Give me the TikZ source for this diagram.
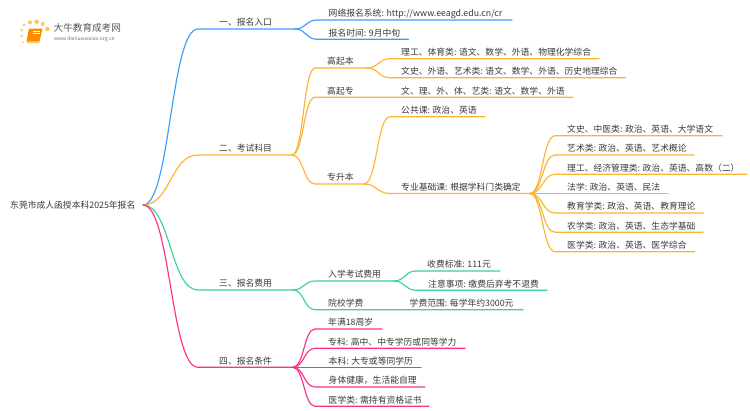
\documentclass[tikz,border=0pt]{standalone}
\usepackage{fontspec}
\setmainfont{Noto Sans CJK SC}
\usetikzlibrary{calc}
\definecolor{cblue}{HTML}{3F9CFF}
\definecolor{corange}{HTML}{FDB432}
\definecolor{cgreen}{HTML}{3DD192}
\definecolor{cpink}{HTML}{FF2F88}
\definecolor{ctext}{HTML}{3A3A3A}
\definecolor{cdot}{HTML}{FFC65A}
\tikzset{
  lbl/.style={anchor=base west,inner sep=0pt,text=ctext,font=\fontsize{8.8}{10}\selectfont},
  wire/.style={line width=1.15pt,line cap=round,line join=round,draw=#1},
  logodot/.style={circle,fill=cdot,draw=none,inner sep=0pt,minimum size=#1},
}
% name, parent, colour, x-in, x-out, y, text-x, text
\newcommand{\topic}[8]{%
  \coordinate (#1-in) at (#4,#6);
  \coordinate (#1-out) at (#5,#6);
  \node[lbl] (#1) at (#7,#6-3.2) {#8};
  \draw[wire=#3] (#2) .. controls ($(#2)!.5!(#2-|#1-in)$) and ($(#1-in)!.5!(#1-in-|#2)$) .. (#1-in) -- (#1-out);
}
\begin{document}
\begin{tikzpicture}[x=1pt,y=-1pt]
\useasboundingbox (0,0) rectangle (750,410);
\fill[white] (0,0) rectangle (750,410);
% logo
\foreach \n/\p/\s in {d1/{21.7,30}/3pt,d2/{24,25}/3pt,d3/{30,22.3}/4pt,d4/{36.7,21.7}/4.5pt,d5/{42.7,24}/4pt,d6/{47.3,29}/4.5pt,d7/{21.7,36}/2.5pt,d8/{23.3,42.3}/2pt}{
  \node[logodot=\s] (\n) at (\p) {};
}
\fill[orange!90!yellow] (29,28.5) -- (42.5,28.5) -- (39.5,41.5) -- (26.5,41.5) -- cycle;
\fill[orange!60!yellow!70!white] (26.5,41.5) -- (39.5,41.5) -- (39.2,43) -- (27,43) -- cycle;
\draw[white,line width=.5pt] (33,31) -- (40,31) (32.5,33.5) -- (39.5,33.5);
\node[inner sep=0pt,anchor=base west,text=ctext!85,font=\fontsize{9.6}{11}\selectfont] (logotitle) at (53.5,31) {大牛教育成考网};
\node[inner sep=0pt,anchor=base west,text=black!55,font=\fontsize{5}{6}\selectfont] (logourl) at (54,40.5) {www.daniuxuexiao.org.cn};
\fill[left color=white,middle color=black!15,right color=white] (48,33.1) rectangle (134,33.6);
% root
\node[lbl] (root) at (10,208.5) {东莞市成人函授本科2025年报名};
\coordinate (rootout) at (143,205);
% branch 1
\topic{a}{rootout}{cblue}{198}{295}{29}{219}{一、报名入口}
\topic{a1}{a-out}{cblue}{317}{512}{20}{328.5}{网络报名系统: http://www.eeagd.edu.cn/cr}
\topic{a2}{a-out}{cblue}{317}{408.5}{39.3}{328.5}{报名时间: 9月中旬}
% branch 2
\topic{b}{rootout}{corange}{198}{292}{155}{219}{二、考试科目}
\topic{b1}{b-out}{corange}{315}{367}{68}{327}{高起本}
\topic{b11}{b1-out}{corange}{390}{599}{58.7}{401}{理工、体育类: 语文、数学、外语、物理化学综合}
\topic{b12}{b1-out}{corange}{390}{625.5}{77.7}{401}{文史、外语、艺术类: 语文、数学、外语、历史地理综合}
\topic{b2}{b-out}{corange}{315}{573}{97.3}{327}{高起专}
\node[lbl] (b21) at (401,94.1) {文、理、外、体、艺类: 语文、数学、外语};
\topic{b3}{b-out}{corange}{315}{364}{184}{327}{专升本}
\topic{b31}{b3-out}{corange}{390}{485}{116.7}{401}{公共课: 政治、英语}
\topic{b32}{b3-out}{corange}{390}{530}{193.5}{401}{专业基础课: 根据学科门类确定}
\topic{c1}{b32-out}{corange}{555}{722}{135.7}{567}{文史、中医类: 政治、英语、大学语文}
\topic{c2}{b32-out}{corange}{555}{694}{155}{567}{艺术类: 政治、英语、艺术概论}
\topic{c3}{b32-out}{corange}{555}{747}{174.3}{567}{理工、经济管理类: 政治、英语、高数（二）}
\topic{c4}{b32-out}{corange}{555}{668}{193.5}{567}{法学: 政治、英语、民法}
\topic{c5}{b32-out}{corange}{555}{703.5}{213}{567}{教育学类: 政治、英语、教育理论}
\topic{c6}{b32-out}{corange}{555}{703}{232.3}{567}{农学类: 政治、英语、生态学基础}
\topic{c7}{b32-out}{corange}{555}{694.5}{251.7}{567}{医学类: 政治、英语、医学综合}
% branch 3
\topic{e}{rootout}{cgreen}{198}{293}{290}{219}{三、报名费用}
\topic{e1}{e-out}{cgreen}{315}{394}{281}{328}{入学考试费用}
\topic{e11}{e1-out}{cgreen}{416}{500}{271}{427}{收费标准: 111元}
\topic{e12}{e1-out}{cgreen}{416}{547}{290.3}{428}{注意事项: 缴费后弃考不退费}
\topic{e2}{e-out}{cgreen}{315}{523}{309.7}{328}{院校学费}
\node[lbl] (e21) at (409.5,306.5) {学费范围: 每学年约3000元};
% branch 4
\topic{f}{rootout}{cpink}{198}{293}{367.3}{219}{四、报名条件}
\topic{f1}{f-out}{cpink}{315}{382}{329}{328}{年满18周岁}
\topic{f2}{f-out}{cpink}{315}{465}{348.3}{328}{专科: 高中、中专学历或同等学力}
\topic{f3}{f-out}{cpink}{315}{421}{367.3}{328.5}{本科: 大专或等同学历}
\topic{f4}{f-out}{cpink}{315}{425}{387}{328.5}{身体健康，生活能自理}
\topic{f5}{f-out}{cpink}{315}{429}{406.3}{328.5}{医学类: 需持有资格证书}
\end{tikzpicture}
\end{document}
